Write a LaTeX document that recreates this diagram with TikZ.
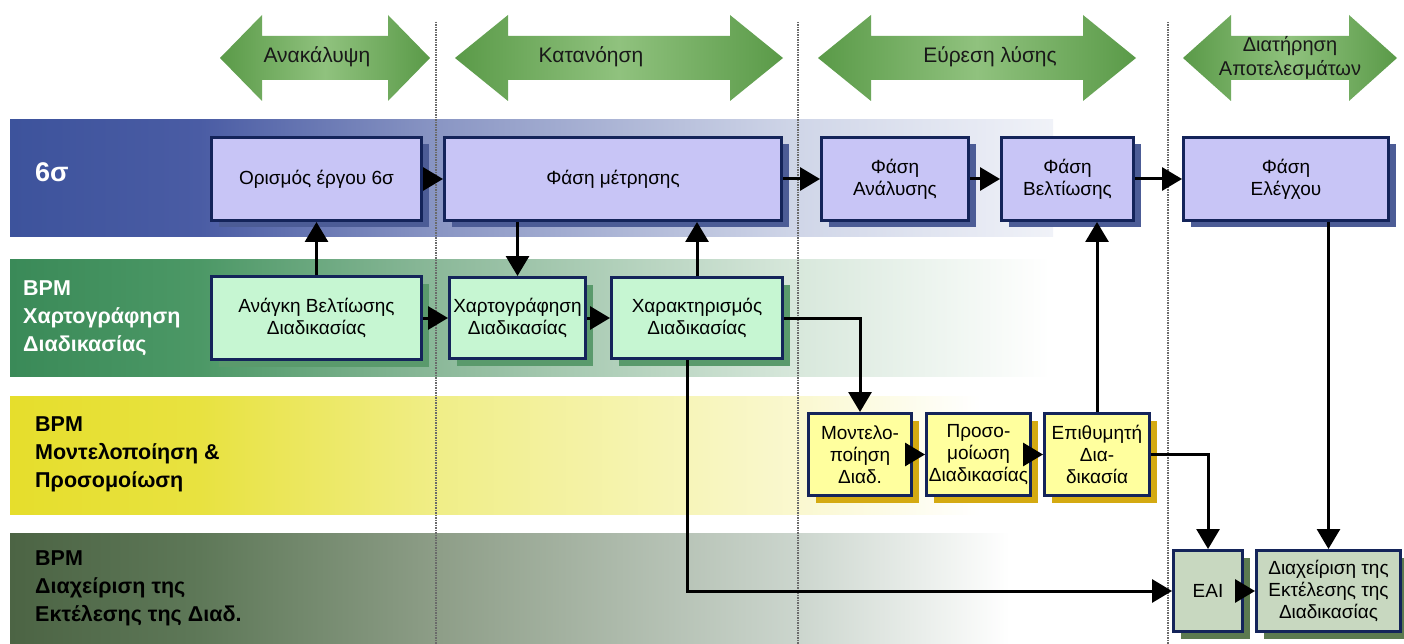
\documentclass[tikz,border=0pt]{standalone}
\usepackage{fontspec}
\setmainfont{Liberation Sans}
\usetikzlibrary{arrows.meta,shadows}
\definecolor{navy}{HTML}{14245A}
\definecolor{lav}{HTML}{C8C5F6}
\definecolor{lavsh}{HTML}{4C5C96}
\definecolor{mint}{HTML}{C6F6D2}
\definecolor{mintsh}{HTML}{5A9A6C}
\definecolor{lyel}{HTML}{FFFF9E}
\definecolor{yelsh}{HTML}{D4AA12}
\definecolor{gbox}{HTML}{C8D8C0}
\definecolor{gboxsh}{HTML}{5C7A50}
\definecolor{ga}{HTML}{5A9A48}
\definecolor{gb}{HTML}{90C27E}
\definecolor{dashc}{HTML}{6A6A6A}
% band colours
\definecolor{sA}{HTML}{3D539C}\definecolor{sB}{HTML}{4A5CA4}\definecolor{sC}{HTML}{8A96C4}\definecolor{sD}{HTML}{D0D6E8}\definecolor{sE}{HTML}{F0F2F8}
\definecolor{mA}{HTML}{3A8A58}\definecolor{mB}{HTML}{4C9866}\definecolor{mC}{HTML}{8CB99A}\definecolor{mD}{HTML}{D8E8DC}\definecolor{mE}{HTML}{FFFFFF}
\definecolor{yA}{HTML}{E6DE2C}\definecolor{yB}{HTML}{E8E240}\definecolor{yC}{HTML}{F0EE88}\definecolor{yD}{HTML}{FAF8D0}\definecolor{yE}{HTML}{FFFFFF}
\definecolor{dA}{HTML}{4C6444}\definecolor{dB}{HTML}{5E7858}\definecolor{dC}{HTML}{8E9E88}\definecolor{dD}{HTML}{CCD6CE}\definecolor{dE}{HTML}{FFFFFF}
\tikzset{
  boxtext/.style={font=\fontsize{19}{22}\selectfont, text=black, align=center, inner sep=1pt},
  sbox/.style={boxtext, draw=navy, line width=3pt, fill=lav,
    drop shadow={shadow xshift=7pt, shadow yshift=-7pt, fill=lavsh, opacity=1}},
  gbx/.style={boxtext, draw=navy, line width=3pt, fill=mint,
    drop shadow={shadow xshift=7pt, shadow yshift=-7pt, fill=mintsh, opacity=1}},
  ybx/.style={boxtext, draw=navy, line width=3pt, fill=lyel,
    drop shadow={shadow xshift=7pt, shadow yshift=-7pt, fill=yelsh, opacity=1}},
  dbx/.style={boxtext, draw=navy, line width=3pt, fill=gbox,
    drop shadow={shadow xshift=7pt, shadow yshift=-7pt, fill=gboxsh, opacity=1}},
  arr/.style={line width=3pt, -{Triangle[length=20pt,width=23pt]}},
  lane/.style={font=\fontsize{21.5}{28}\selectfont\bfseries, align=left, anchor=west, inner sep=0pt},
  phase/.style={font=\fontsize{21}{24}\selectfont, text=black!90, align=center, inner sep=0pt},
  sep/.style={draw=dashc, line width=1.6pt, dash pattern=on 1.5pt off 1pt},
}
\newcommand\dblarr[3]{%
  \shade[left color=ga, right color=ga, middle color=gb]
    (#1,58) -- ({#1+#3},15) -- ({#1+#3},36) -- ({#2-#3},36) -- ({#2-#3},15) -- (#2,58)
    -- ({#2-#3},101) -- ({#2-#3},80) -- ({#1+#3},80) -- ({#1+#3},101) -- cycle;}
\newcommand\bandshade[9]{% y1 y2 colA colB colC colD colE xend
  \shade[left color=#3, right color=#4] (10,#1) rectangle (200,#2);
  \shade[left color=#4, right color=#5] (199.5,#1) rectangle (440,#2);
  \shade[left color=#5, right color=#6] (439.5,#1) rectangle (800,#2);
  \shade[left color=#6, right color=#7] (799.5,#1) rectangle (#8,#2);}
\begin{document}
\begin{tikzpicture}[x=1pt,y=-1pt]
\useasboundingbox[fill=white] (0,0) rectangle (1404,644);
% ---- bands
\bandshade{120}{237}{sA}{sB}{sC}{sD}{sE}{1053}{}
\bandshade{259}{376}{mA}{mB}{mC}{mD}{mE}{1050}{}
\bandshade{396}{514}{yA}{yB}{yC}{yD}{yE}{980}{}
\bandshade{533}{644}{dA}{dB}{dC}{dD}{dE}{1010}{}
% ---- separators
\draw[sep] (436,22) -- (436,644);
\draw[sep] (798,22) -- (798,644);
\draw[sep] (1168,22) -- (1168,644);
% ---- phase arrows
\dblarr{220}{430}{42}
\dblarr{455}{783}{53}
\dblarr{818}{1136}{53}
\dblarr{1183}{1397}{48}
\node[phase] (p1) at (317,57) {Ανακάλυψη};
\node[phase] (p2) at (591,57) {Κατανόηση};
\node[phase] (p3) at (990,57) {Εύρεση λύσης};
\node[phase, font=\fontsize{20}{24}\selectfont] (p4) at (1290,58) {Διατήρηση\\Αποτελεσμάτων};
% ---- lane labels
\node[lane, text=white, font=\fontsize{27}{30}\selectfont\bfseries] (l1) at (35,172) {6σ};
\node[lane, text=white] (l2) at (23,318) {BPM\\Χαρτογράφηση\\Διαδικασίας};
\node[lane, text=black] (l3) at (35,454) {BPM\\Μοντελοποίηση \&\\Προσομοίωση};
\node[lane, text=black] (l4) at (35,588) {BPM\\Διαχείριση της\\Εκτέλεσης της Διαδ.};
% ---- 6 sigma row
\node[sbox, minimum width=210pt, minimum height=83pt] (orismos) at (316.5,179) {Ορισμός έργου 6σ};
\node[sbox, minimum width=337pt, minimum height=83pt] (metrisi) at (613,179) {Φάση μέτρησης};
\node[sbox, minimum width=147pt, minimum height=83pt] (anal) at (895,179) {Φάση\\Ανάλυσης};
\node[sbox, minimum width=132pt, minimum height=83pt] (belt) at (1067.5,179) {Φάση\\Βελτίωσης};
\node[sbox, minimum width=205pt, minimum height=83pt] (elegx) at (1286,179) {Φάση\\Ελέγχου};
% ---- mapping row
\node[gbx, minimum width=210pt, minimum height=83pt] (anagki) at (316.5,318) {Ανάγκη Βελτίωσης\\Διαδικασίας};
\node[gbx, minimum width=136pt, minimum height=81pt, inner sep=0pt] (xart) at (517.5,318) {Χαρτογράφηση\\Διαδικασίας};
\node[gbx, minimum width=171pt, minimum height=81pt] (xar) at (697,318) {Χαρακτηρισμός\\Διαδικασίας};
% ---- modelling row
\node[ybx, minimum width=103pt, minimum height=82pt, inner sep=0pt] (model) at (860,454.5) {Μοντελο-\\ποίηση\\Διαδ.};
\node[ybx, minimum width=104pt, minimum height=82pt, inner sep=0pt] (prosom) at (978.5,454.5) {Προσο-\\μοίωση\\Διαδικασίας};
\node[ybx, minimum width=105pt, minimum height=82pt, inner sep=0pt] (epith) at (1097,454.5) {Επιθυμητή\\Δια-\\δικασία};
% ---- execution row
\node[dbx, minimum width=69pt, minimum height=81pt] (eai) at (1208,591) {EAI};
\node[dbx, minimum width=144pt, minimum height=81pt, inner sep=0pt] (diax) at (1328.5,591) {Διαχείριση της\\Εκτέλεσης της\\Διαδικασίας};
% ---- connectors
\draw[arr] (orismos.east) -- (metrisi.west);
\draw[arr] (metrisi.east) -- (anal.west);
\draw[arr] (anal.east) -- (belt.west);
\draw[arr] (belt.east) -- (elegx.west);
\draw[arr] (anagki.north) -- (orismos.south);
\draw[arr] (metrisi.south -| xart.north) -- (xart.north);
\draw[arr] (xar.north) -- (xar.north |- metrisi.south);
\draw[arr] (anagki.east) -- (xart.west);
\draw[arr] (xart.east) -- (xar.west);
\draw[arr] (xar.east) -| (model.north);
\draw[arr] ([xshift=-10pt]xar.south) |- (eai.west);
\draw[arr] (model.east) -- (prosom.west);
\draw[arr] (prosom.east) -- (epith.west);
\draw[arr] (epith.north) -- (epith.north |- belt.south);
\draw[arr] (epith.east) -| (eai.north);
\draw[arr] (diax.north |- elegx.south) -- (diax.north);
\draw[arr] (eai.east) -- (diax.west);
\end{tikzpicture}
\end{document}
